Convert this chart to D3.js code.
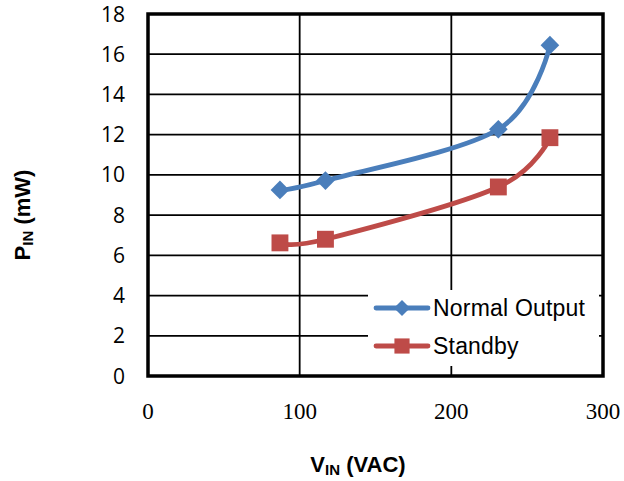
<!DOCTYPE html>
<html><head><meta charset="utf-8">
<script src="https://cdn.jsdelivr.net/npm/d3@7"></script>
<style>body{margin:0;background:#fff}</style>
</head><body>
<svg id="c" width="624" height="481"></svg>
<script>
const vin = [87, 117, 231, 265];
const normalOutput = [9.25, 9.72, 12.27, 16.45];
const standby = [6.62, 6.8, 9.4, 11.85];
const xTicks = [0, 100, 200, 300];
const yTicks = [0, 2, 4, 6, 8, 10, 12, 14, 16, 18];
const seriesNames = ["Normal Output", "Standby"];
const colors = ["#4a7ebb", "#be4b48"];

const svg = d3.select("#c");
const L = 148, R = 603, T = 14, B = 376;
const x = d3.scaleLinear().domain([0, 300]).range([L, R]);
const y = d3.scaleLinear().domain([0, 18]).range([B, T]);

// gridlines
svg.append("g").selectAll("line").data(yTicks.slice(1, -1)).join("line")
  .attr("x1", L).attr("x2", R).attr("y1", d => y(d)).attr("y2", d => y(d))
  .attr("stroke", "#000").attr("stroke-width", 1.8);
svg.append("g").selectAll("line").data(xTicks.slice(1, -1)).join("line")
  .attr("y1", T).attr("y2", B).attr("x1", d => x(d)).attr("x2", d => x(d))
  .attr("stroke", "#000").attr("stroke-width", 1.8);

// y labels
svg.append("g").selectAll("text").data(yTicks).join("text")
  .attr("x", 125).attr("y", d => y(d) + 7.5).attr("text-anchor", "end")
  .attr("font-family", "Open Sans, Liberation Sans, sans-serif").attr("font-size", 21)
  .text(d => d);
// x labels
svg.append("g").selectAll("text").data(xTicks).join("text")
  .attr("x", d => x(d)).attr("y", 419).attr("text-anchor", "middle")
  .attr("font-family", "Liberation Serif, serif").attr("font-size", 23)
  .text(d => d);

// series
const line = d3.line().x(d => x(d[0])).y(d => y(d[1])).curve(d3.curveCatmullRom.alpha(0));
const data = [normalOutput, standby].map(s => vin.map((v, i) => [v, s[i]]));
data.forEach((pts, k) => {
  svg.append("path").attr("d", line(pts)).attr("fill", "none")
    .attr("stroke", colors[k]).attr("stroke-width", 4.8).attr("stroke-linecap", "round");
});
data.forEach((pts, k) => {
  svg.append("g").selectAll("path").data(pts).join("path")
    .attr("d", k === 0 ? d3.symbol().type(d3.symbolSquare).size(175)() : d3.symbol().type(d3.symbolSquare).size(285)())
    .attr("transform", d => `translate(${x(d[0])},${y(d[1])})` + (k === 0 ? " rotate(45)" : ""))
    .attr("fill", colors[k]);
});

// legend
const lg = svg.append("g");
lg.append("rect").attr("x", 368).attr("y", 290).attr("width", 231).attr("height", 76).attr("fill", "#fff");
seriesNames.forEach((n, k) => {
  const yy = 308 + k * 38;
  lg.append("line").attr("x1", 376).attr("x2", 428).attr("y1", yy).attr("y2", yy)
    .attr("stroke", colors[k]).attr("stroke-width", 4.8).attr("stroke-linecap", "round");
  lg.append("path").attr("d", k === 0 ? d3.symbol().type(d3.symbolSquare).size(130)() : d3.symbol().type(d3.symbolSquare).size(230)())
    .attr("transform", `translate(402,${yy})` + (k === 0 ? " rotate(45)" : "")).attr("fill", colors[k]);
  lg.append("text").attr("x", 433).attr("y", yy + 8).attr("font-family", "Liberation Sans, Arial, sans-serif")
    .attr("font-size", 23).attr("letter-spacing", 0.2).text(n);
});

// frame
svg.append("rect").attr("x", L).attr("y", T).attr("width", R - L).attr("height", B - T)
  .attr("fill", "none").attr("stroke", "#000").attr("stroke-width", 3.5);

// axis titles
const xt = svg.append("text").attr("x", 358).attr("y", 472).attr("text-anchor", "middle")
  .attr("font-family", "Liberation Sans, Arial, sans-serif").attr("font-weight", "bold").attr("font-size", 22);
xt.append("tspan").text("V");
xt.append("tspan").attr("font-size", 15).attr("dy", 3).text("IN");
xt.append("tspan").attr("dy", -3).text(" (VAC)");

const yt = svg.append("text").attr("transform", "translate(30,215) rotate(-90)").attr("text-anchor", "middle")
  .attr("font-family", "Liberation Sans, Arial, sans-serif").attr("font-weight", "bold").attr("font-size", 22);
yt.append("tspan").text("P");
yt.append("tspan").attr("font-size", 15).attr("dy", 3).text("IN");
yt.append("tspan").attr("dy", -3).text(" (mW)");
</script>
</body></html>
